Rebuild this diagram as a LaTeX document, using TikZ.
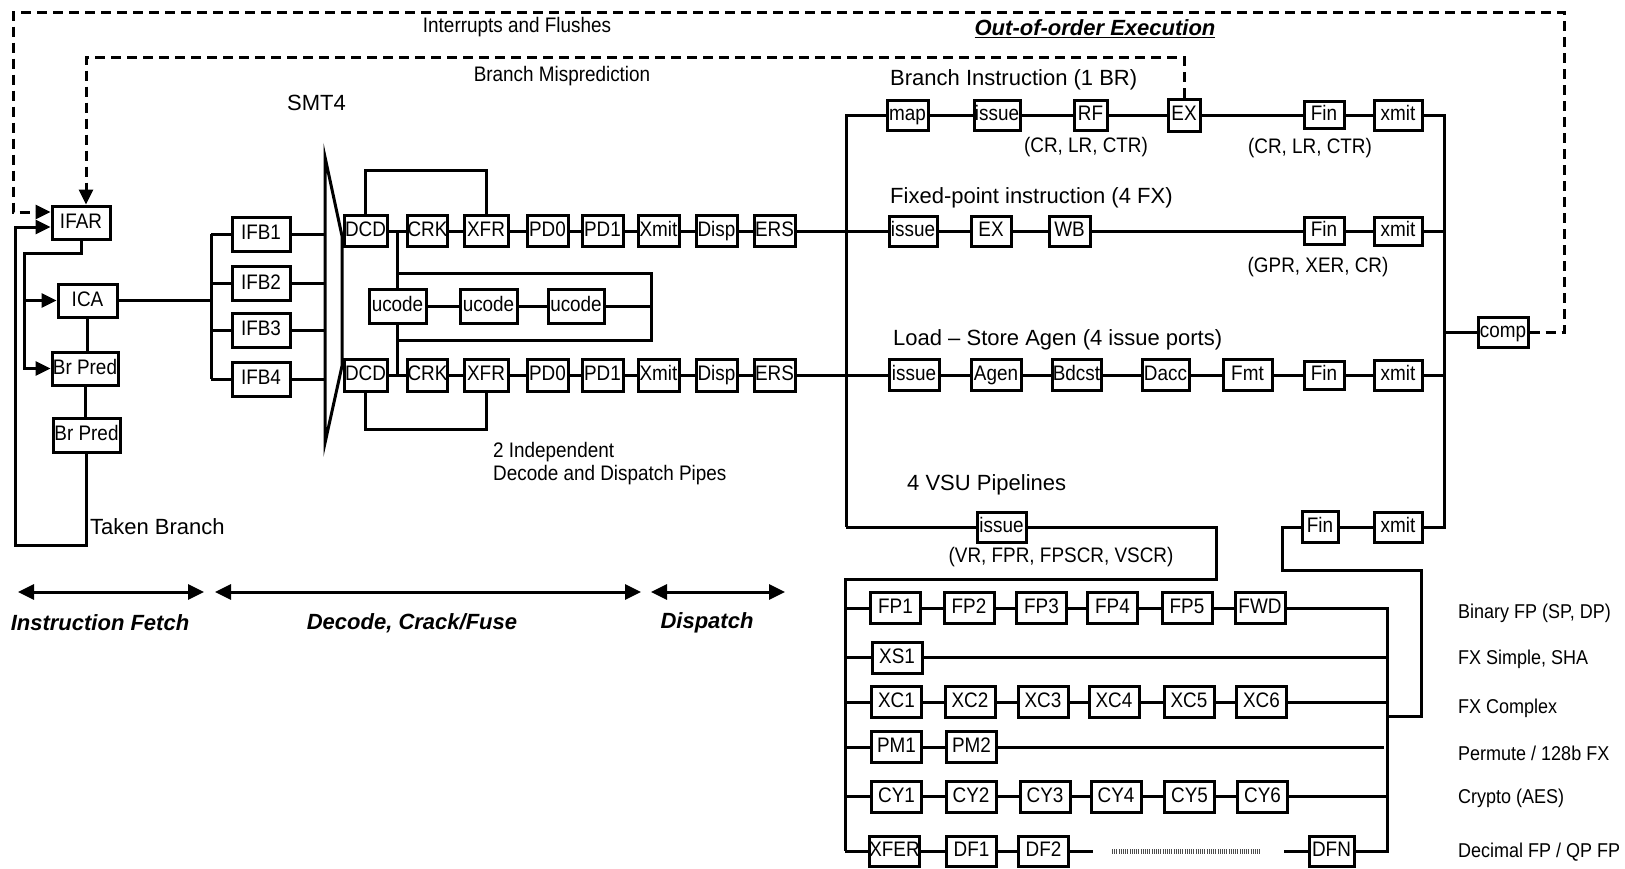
\documentclass[tikz,border=0pt]{standalone}
\usepackage{fontspec}
\setmainfont{Liberation Sans}
\newfontfamily\narrowsans{Liberation Sans}[FakeStretch=0.9]
\usetikzlibrary{arrows.meta,calc}

\newcommand\boxfont{\narrowsans\fontsize{21}{23}\selectfont}
\newcommand\notefont{\narrowsans\fontsize{21}{23}\selectfont}
\newcommand\sidefont{\narrowsans\fontsize{20}{22}\selectfont}
\newcommand\headfont{\fontsize{22}{24}\selectfont}
\newcommand\phasefont{\fontsize{22}{24}\selectfont\bfseries\itshape}

\tikzset{
  blk/.style={draw, line width=3pt, inner sep=0pt, font=\boxfont,
              text height=15pt, text depth=4pt, fill=white},
  bw/.style={minimum width=#1pt},
  bh/.style={minimum height=#1pt},
  ln/.style={line width=3pt},
  tip/.style={-{Triangle[length=15pt,width=14pt]}},
  arr/.style={ln, tip},
  dsh/.style={line width=3pt, dash pattern=on 10pt off 6pt},
  dbl/.style={line width=3pt, {Triangle[length=16pt,width=15pt]}-{Triangle[length=16pt,width=15pt]}},
  hatch/.style={line width=5pt, dash pattern=on 1pt off 1.2pt, black!70},
  note/.style={inner sep=0pt, font=\notefont},
  side/.style={inner sep=0pt, font=\sidefont},
  head/.style={inner sep=0pt, font=\headfont},
  phase/.style={inner sep=0pt, font=\phasefont},
}

\begin{document}
\begin{tikzpicture}[x=1pt,y=-1pt]
\useasboundingbox[fill=white] (0,0) rectangle (1625,868);

% ---------------- instruction fetch ----------------
\node[blk,bw=58,bh=33] (ifar) at (81,222.5) {IFAR};
\node[blk,bw=59,bh=33] (ica)  at (87.5,300.5) {ICA};
\node[blk,bw=66,bh=33] (bp1)  at (85,368.5) {Br Pred};
\node[blk,bw=67,bh=34] (bp2)  at (86.5,435) {Br Pred};
\coordinate (fbus) at (24,253);
\coordinate (tbr)  at (15,545);
\draw[arr] (ifar.south) |- (fbus) |- (bp1.west);
\draw[arr] (fbus |- ica.west) -- (ica.west);
\draw[ln] (ica.south) -- (ica.south |- bp1.north);
\draw[ln] (bp1.south) -- (bp1.south |- bp2.north);
\draw[arr] (bp2.south) |- (tbr) |- ($(ifar.west)+(0,4.5)$);
\node[head,anchor=west] (tbl) at (90,527) {Taken Branch};

% ---------------- fetch buffers and mux ----------------
\coordinate (mxa) at (325,157);
\coordinate (mxb) at (342,236);
\coordinate (mxc) at (342,366);
\coordinate (mxd) at (325,443);
\draw[ln,line join=miter] (mxa) -- (mxb) -- (mxc) -- (mxd) -- cycle;
\coordinate (ibus1) at (211,234);
\coordinate (ibus4) at (211,379);
\draw[ln] (ibus1) -- (ibus4);
\draw[ln] (ica.east) -- (ica.east -| ibus1);
\foreach \i/\y in {1/234,2/283.5,3/330,4/379}{
  \node[blk,bw=58,bh=34] (ifb\i) at (261,\y) {IFB\i};
  \draw[ln] (ifb\i.west) -- (ifb\i.west -| ibus1);
  \draw[ln] (ifb\i.east) -- (ifb\i.east -| mxa);
}
\node[head] (smt) at (316.5,103) {SMT4};

% ---------------- decode / dispatch pipes ----------------
\foreach \n/\x/\w/\t in {dcd/365.5/43/DCD, crk/427.5/39/CRK, xfr/486/44/XFR,
    pdz/547.5/41/PD0, pdo/602.5/41/PD1, xmt/658.5/41/Xmit, dsp/716.5/41/Disp,
    ers/774.5/41/ERS}{
  \node[blk,bw=\w,bh=31] (t\n) at (\x,231) {\t};
  \node[blk,bw=\w,bh=32] (b\n) at (\x,375) {\t};
}
\foreach \a/\b in {dcd/crk, crk/xfr, xfr/pdz, pdz/pdo, pdo/xmt, xmt/dsp, dsp/ers}{
  \draw[ln] (t\a.east) -- (t\b.west);
  \draw[ln] (b\a.east) -- (b\b.west);
}
\draw[ln] (tdcd.north) -- ($(tdcd.north)+(0,-44)$) -| (txfr.north);
\draw[ln] (bdcd.south) -- ($(bdcd.south)+(0,37)$) -| (bxfr.south);

\node[blk,bw=57,bh=34] (uc1) at (397.5,306) {ucode};
\node[blk,bw=57,bh=34] (uc2) at (488.5,306) {ucode};
\node[blk,bw=56,bh=34] (uc3) at (576,306) {ucode};
\coordinate (uct) at (651,273);
\coordinate (ucb) at (651,340);
\draw[ln] (uc1.north) -- (uc1.north |- tdcd.east);
\draw[ln] (uc1.south) -- (uc1.south |- bdcd.east);
\draw[ln] (uc1.east) -- (uc2.west);
\draw[ln] (uc2.east) -- (uc3.west);
\draw[ln] (uc1.north |- uct) -- (uct) -- (ucb) -- (uc1.south |- ucb);
\draw[ln] (uc3.east) -- (uc3.east -| uct);

\node[note,anchor=west] (ind1) at (493,452) {2 Independent};
\node[note,anchor=west] (ind2) at (493,475) {Decode and Dispatch Pipes};

% ---------------- issue bus ----------------
\coordinate (xb1) at (846,115);
\coordinate (xb2) at (846,527);
\draw[ln] (ters.east) -- (ters.east -| xb1);
\draw[ln] (bers.east) -- (bers.east -| xb1);

% branch pipe
\node[blk,bw=41,bh=30] (bmap) at (907.5,115) {map};
\node[blk,bw=46,bh=30] (biss) at (997,115) {issue};
\node[blk,bw=33,bh=30] (brf)  at (1090.5,115) {RF};
\node[blk,bw=32,bh=32] (bex)  at (1184,115) {EX};
\node[blk,bw=40,bh=27] (bfin) at (1324,115) {Fin};
\node[blk,bw=48,bh=30] (bxmt) at (1398,115) {xmit};
\draw[ln] (bmap.west) -- (xb1) -- (xb2);
\foreach \a/\b in {bmap/biss, biss/brf, brf/bex, bex/bfin, bfin/bxmt}
  \draw[ln] (\a.east) -- (\b.west);
\node[head,anchor=west] (bhd) at (890,80) {Branch Instruction (1 BR)};
\node[note] (bn1) at (1086,147) {(CR, LR, CTR)};
\node[note] (bn2) at (1310,148) {(CR, LR, CTR)};

% fixed-point pipe
\node[blk,bw=48,bh=30] (fiss) at (913,231) {issue};
\node[blk,bw=40,bh=30] (fex)  at (991,231) {EX};
\node[blk,bw=41,bh=30] (fwb)  at (1069.5,231) {WB};
\node[blk,bw=40,bh=27] (ffin) at (1324,231) {Fin};
\node[blk,bw=48,bh=28] (fxmt) at (1398,231) {xmit};
\draw[ln] (xb1 |- fiss.west) -- (fiss.west);
\foreach \a/\b in {fiss/fex, fex/fwb, fwb/ffin, ffin/fxmt}
  \draw[ln] (\a.east) -- (\b.west);
\node[head,anchor=west] (fhd) at (890,198) {Fixed-point instruction (4 FX)};
\node[note] (fn1) at (1318,267) {(GPR, XER, CR)};

% load/store pipe
\node[blk,bw=50,bh=31] (liss) at (914,375) {issue};
\node[blk,bw=50,bh=31] (lagn) at (996,375) {Agen};
\node[blk,bw=49,bh=31] (lbdc) at (1076.5,375) {Bdcst};
\node[blk,bw=47,bh=31] (ldac) at (1165.5,375) {Dacc};
\node[blk,bw=49,bh=31] (lfmt) at (1247.5,375) {Fmt};
\node[blk,bw=40,bh=28] (lfin) at (1324,375) {Fin};
\node[blk,bw=48,bh=30] (lxmt) at (1398,375) {xmit};
\draw[ln] (xb1 |- liss.west) -- (liss.west);
\foreach \a/\b in {liss/lagn, lagn/lbdc, lbdc/ldac, ldac/lfmt, lfmt/lfin, lfin/lxmt}
  \draw[ln] (\a.east) -- (\b.west);
\node[head,anchor=west] (lhd) at (893,340) {Load -- Store Agen (4 issue ports)};

% VSU issue
\node[blk,bw=49,bh=30] (viss) at (1001.5,527) {issue};
\draw[ln] (xb2) -- (viss.west);
\node[head,anchor=west] (vhd) at (907,485) {4 VSU Pipelines};
\node[note] (vn1) at (1061,557) {(VR, FPR, FPSCR, VSCR)};
\coordinate (vq1) at (1216,579);
\coordinate (vq2) at (845,579);
\coordinate (vq3) at (845,851);
\draw[ln] (viss.east) -| (vq1) -- (vq2) -- (vq3);

% completion
\node[blk,bw=36,bh=31] (vfin) at (1320,527) {Fin};
\node[blk,bw=48,bh=30] (vxmt) at (1398,527) {xmit};
\draw[ln] (vfin.east) -- (vxmt.west);
\coordinate (rb1) at (1444,115);
\coordinate (rb2) at (1444,527);
\draw[ln] (bxmt.east) -- (rb1) -- (rb2) -- (vxmt.east);
\draw[ln] (fxmt.east) -- (fxmt.east -| rb1);
\draw[ln] (lxmt.east) -- (lxmt.east -| rb1);
\node[blk,bw=50,bh=30] (comp) at (1503,332) {comp};
\draw[ln] (comp.west) -- (comp.west -| rb1);

% ---------------- VSU pipelines ----------------
\foreach \n/\x/\t in {fp1/895.5/FP1, fp2/969/FP2, fp3/1041.5/FP3, fp4/1112.5/FP4,
    fp5/1187/FP5, fwd/1260/FWD}
  \node[blk,bw=50,bh=31] (\n) at (\x,608) {\t};
\node[blk,bw=50,bh=31] (xs1) at (897,657.5) {XS1};
\foreach \n/\x/\t in {xc1/896.5/XC1, xc2/970/XC2, xc3/1043/XC3, xc4/1114/XC4,
    xc5/1189/XC5, xc6/1261.5/XC6}
  \node[blk,bw=50,bh=31] (\n) at (\x,702) {\t};
\node[blk,bw=50,bh=31] (pm1) at (896.5,747) {PM1};
\node[blk,bw=50,bh=31] (pm2) at (971.5,747) {PM2};
\foreach \n/\x/\t in {cy1/896.5/CY1, cy2/971/CY2, cy3/1045/CY3, cy4/1116/CY4,
    cy5/1189.5/CY5, cy6/1262.5/CY6}
  \node[blk,bw=50,bh=31] (\n) at (\x,796.5) {\t};
\node[blk,bw=50,bh=30] (xfer) at (894.5,851) {XFER};
\node[blk,bw=50,bh=30] (df1)  at (971.5,851) {DF1};
\node[blk,bw=50,bh=30] (df2)  at (1043.5,851) {DF2};
\node[blk,bw=45,bh=30] (dfn)  at (1331.5,851) {DFN};

\foreach \a/\b in {fp1/fp2, fp2/fp3, fp3/fp4, fp4/fp5, fp5/fwd,
    xc1/xc2, xc2/xc3, xc3/xc4, xc4/xc5, xc5/xc6, pm1/pm2,
    cy1/cy2, cy2/cy3, cy3/cy4, cy4/cy5, cy5/cy6, xfer/df1, df1/df2}
  \draw[ln] (\a.east) -- (\b.west);
\foreach \n in {fp1, xs1, xc1, pm1, cy1, xfer}
  \draw[ln] (vq2 |- \n.west) -- (\n.west);

\coordinate (dfa) at (1093,851);
\coordinate (dfb) at (1112,851);
\coordinate (dfc) at (1261,851);
\coordinate (dfd) at (1284,851);
\draw[ln] (df2.east) -- (dfa);
\draw[hatch] (dfb) -- (dfc);
\draw[ln] (dfd) -- (dfn.west);

\coordinate (vrb1) at (1387,608);
\coordinate (vrb2) at (1387,851);
\draw[ln] (fwd.east) -- (vrb1) -- (vrb2) -- (dfn.east);
\foreach \n in {xs1, xc6, cy6}
  \draw[ln] (\n.east) -- (\n.east -| vrb1);
\draw[ln] (pm2.east) -- ($(pm2.east -| vrb1)+(-3,0)$);

% finish path of the VSU results
\coordinate (fl1) at (1282,570);
\coordinate (fl2) at (1421,716);
\draw[ln] (vfin.west) -| (fl1) -| (fl2) -- (vrb1 |- fl2);

\foreach \n/\y/\t in {l1/613/{Binary FP (SP, DP)}, l2/659/{FX Simple, SHA},
    l3/708/{FX Complex}, l4/753/{Permute / 128b FX}, l5/798/{Crypto (AES)},
    l6/852/{Decimal FP / QP FP}}
  \node[side,anchor=west] (\n) at (1458,\y) {\t};

% ---------------- flush paths ----------------
\coordinate (ob1) at (1564,12);
\coordinate (ob2) at (13,12);
\draw[dsh,tip] (comp.east) -| (ob1) -- (ob2) |- ($(ifar.west)+(0,-10.5)$);
\coordinate (ib) at (86,57);
\draw[dsh,tip] (bex.north) |- (ib) -- ($(ifar.north)+(5,0)$);
\node[note] (ifl) at (517,27) {Interrupts and Flushes};
\node[note] (bmp) at (562,76) {Branch Misprediction};
\node[phase] (ooo) at (1095,29) {\underline{Out-of-order Execution}};

% ---------------- phase markers ----------------
\coordinate (p1a) at (18,592);  \coordinate (p1b) at (204,592);
\coordinate (p2a) at (215,592); \coordinate (p2b) at (641,592);
\coordinate (p3a) at (651,592); \coordinate (p3b) at (785,592);
\draw[dbl] (p1a) -- (p1b);
\draw[dbl] (p2a) -- (p2b);
\draw[dbl] (p3a) -- (p3b);
\node[phase] (ph1) at (100,623) {Instruction Fetch};
\node[phase] (ph2) at (412,623) {Decode, Crack/Fuse};
\node[phase] (ph3) at (707,623) {Dispatch};
\end{tikzpicture}
\end{document}
